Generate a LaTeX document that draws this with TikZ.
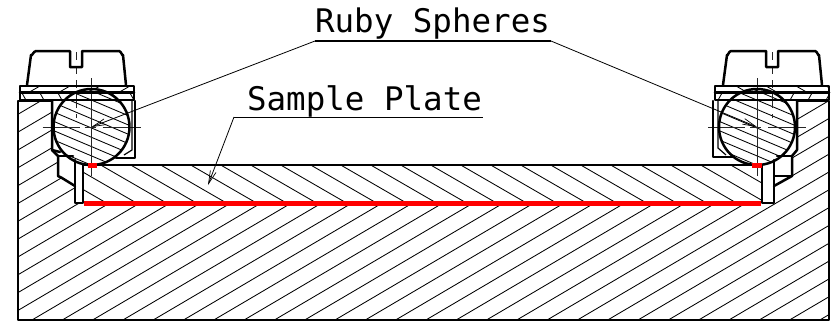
\documentclass[tikz,border=0pt]{standalone}
\usepackage{fontspec}
\setmonofont{DejaVu Sans Mono}
\usetikzlibrary{arrows.meta,calc}
\tikzset{
 thick line/.style={line width=2.5pt,line join=round,line cap=round},
 thin line/.style={line width=0.85pt},
 centre line/.style={line width=0.7pt,black!85},
 redline/.style={red,line width=5pt},
 leader/.style={line width=0.8pt,-{Straight Barb[length=13pt,width=6pt,line width=0.7pt]}},
 label text/.style={font=\ttfamily\fontsize{32.5}{32.5}\selectfont,inner sep=0pt,anchor=base}
}
\begin{document}
\begin{tikzpicture}[x=1pt,y=-1pt]
\useasboundingbox (0,0) rectangle (831,322);
\fill[white] (0,0) rectangle (831,322);
% base hatching
\begin{scope}
\clip (18,101)--(52,101)--(52,150)--(58,156)--(58,176)--(75,186)--(75,203)--(774,203)--(774,186)--(792,176)--(792,156)--(797,150)--(797,101)--(829,101)--(829,320)--(18,320)--cycle;
\foreach \i in {-14,...,27} \draw[thin line] ({32+30.3*\i},320) -- ++(520,-306);
\end{scope}
% plate hatching
\begin{scope}
\clip (83,165) rectangle (762,203);
\foreach \i in {-3,...,24} \draw[thin line] ({100.7+30*\i},165) -- ++(90,52);
\end{scope}
% retainer hatching
\begin{scope}
\clip (20,86) rectangle (134,93);
\foreach \i in {0,...,4} \draw[thin line] ({40+30*\i},86) -- ++(-21,12);
\end{scope}
\begin{scope}
\clip (20,93) rectangle (134,100);
\foreach \i in {0,...,6} \draw[thin line] ({22+18*\i},93) -- ++(5,9);
\end{scope}
\begin{scope}
\clip (715,86) rectangle (829,93);
\foreach \i in {0,...,4} \draw[thin line] ({706+30*\i},86) -- ++(21,12);
\end{scope}
\begin{scope}
\clip (715,93) rectangle (829,100);
\foreach \i in {0,...,6} \draw[thin line] ({722+18*\i},93) -- ++(-5,9);
\end{scope}
% balls
\coordinate (ballL) at (91.5,127);
\coordinate (ballR) at (757,127);
\foreach \c in {ballL,ballR}{
 \fill[white] (\c) circle (38);
 \begin{scope}
 \clip (\c) circle (38);
 \foreach \i in {-6,...,6} \draw[thin line] ($(\c)+(-45,{\i*9.3-18})$) -- ++(90,38);
 \end{scope}
}
% centre lines
\foreach \c in {ballL,ballR}{
 \draw[centre line] ($(\c)+(-49,0)$) -- ($(\c)+(-12,0)$);
 \draw[centre line] ($(\c)+(-7,0)$) -- ($(\c)+(4,0)$);
 \draw[centre line] ($(\c)+(11,0)$) -- ($(\c)+(49,0)$);
 \draw[centre line] ($(\c)+(0,-49)$) -- ($(\c)+(0,49)$);
}
\foreach \x in {76.5,772}{
 \draw[centre line,dash pattern=on 8pt off 6pt] (\x,52) -- (\x,100);
 \draw[centre line,dash pattern=on 8pt off 6pt] (\x,100) -- (\x,118);
}
% outlines: base
\draw[thick line] (52,101)--(18,101)--(18,320)--(829,320)--(829,101)--(797,101);
% left screw, retainer and holder
\draw[thick line] (27,85)--(31,55) to[out=-80,in=180] (36,51)--(70,51)--(70,67)--(82,67)--(82,51)--(119,51) to[out=0,in=-100] (123,55)--(126,85);
\draw[thick line] (20,86) rectangle (134,100);
\draw[thick line] (20,92.5)--(134,92.5);
\draw[thick line] (52,101)--(52,150)--(58,156)--(58,176)--(62,178)--(75,186);
\draw[thick line] (58,156)--(73,156);
\draw[thick line] (52,150)--(60,152);
\draw[thick line] (135,101)--(135,158)--(116,158);
\draw[line width=1.2pt] (132,101)--(132,150)--(124,155);
\draw[thick line] (75,160)--(75,203)--(83,203)--(83,165);
% right screw, retainer and holder
\draw[thick line] (723,85)--(727,55) to[out=-80,in=180] (731,51)--(766,51)--(766,67)--(778,67)--(778,51)--(815,51) to[out=0,in=-100] (819,55)--(822,85);
\draw[thick line] (715,86) rectangle (829,100);
\draw[thick line] (715,92.5)--(829,92.5);
\draw[thick line] (797,101)--(797,150)--(792,156)--(792,176)--(774,186);
\draw[thick line] (775,176)--(792,176);
\draw[thick line] (777,156)--(792,156);
\draw[thick line] (713,101)--(713,157)--(733,157);
\draw[line width=1.2pt] (718,101)--(718,148)--(726,155);
\draw[thick line] (762,165)--(762,203)--(774,203)--(774,160);
% plate top
\draw[thick line] (83,165)--(762,165);
% ball outlines
\foreach \c in {ballL,ballR} \draw[thick line] (\c) circle (38);
% red contact lines
\node[fill=red,inner sep=0pt,minimum width=9.5pt,minimum height=5pt] (redL) at (92.5,165.5) {};
\node[fill=red,inner sep=0pt,minimum width=9.5pt,minimum height=5pt] (redR) at (757,165.5) {};
\coordinate (redA) at (84,203);
\coordinate (redB) at (761,203);
\draw[redline] (redA) -- (redB);
% labels
\node[label text] (ruby) at (432.5,32.5) {Ruby Spheres};
\node[label text] (sample) at (364.5,110) {Sample Plate};
\coordinate (rubyA) at (315,41);
\coordinate (rubyB) at (551,41);
\coordinate (sampleA) at (234,117);
\coordinate (sampleB) at (483,117);
\coordinate (sampleTip) at (208,185);
\draw[line width=1.4pt] (rubyA) -- (rubyB);
\draw[leader] (rubyA) -- (ballL);
\draw[leader] (rubyB) -- (ballR);
\draw[line width=0.9pt] (sampleA) -- (sampleB);
\draw[leader] (sampleA) -- (sampleTip);
\end{tikzpicture}
\end{document}
